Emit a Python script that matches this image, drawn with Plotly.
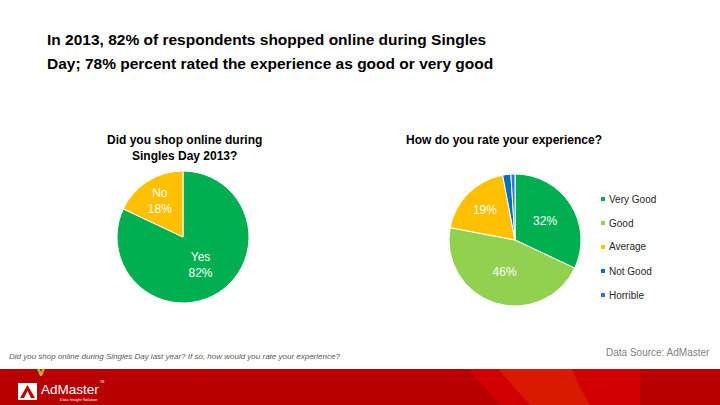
import plotly.graph_objects as go

# --- data ---
title_lines = ["In 2013, 82% of respondents shopped online during Singles",
               "Day; 78% percent rated the experience as good or very good"]

shop_labels = ["Yes", "No"]
shop_values = [82, 18]
shop_colors = ["#00B050", "#FFC000"]

rate_labels = ["Very Good", "Good", "Average", "Not Good", "Horrible"]
rate_values = [32, 46, 19, 2, 1]
rate_colors = ["#00B050", "#92D050", "#FFC000", "#0070C0", "#2E75D6"]

W, H = 720, 405


def px(x):
    return x / W


def py(y):
    return 1 - y / H


fig = go.Figure()

fig.add_trace(go.Pie(
    labels=shop_labels, values=shop_values, sort=False, direction="clockwise",
    rotation=0, marker=dict(colors=shop_colors, line=dict(color="white", width=1)),
    textinfo="label+percent", textposition="inside", insidetextorientation="horizontal",
    textfont=dict(color="white", size=12, family="Liberation Sans, Arial"),
    domain=dict(x=[px(117), px(249)], y=[py(303), py(171)]),
    showlegend=False, hoverinfo="label+percent",
))

rate_text = ["%{percent:.0%}" if v >= 5 else "" for v in rate_values]
fig.add_trace(go.Pie(
    labels=rate_labels, values=rate_values, sort=False, direction="clockwise",
    rotation=0, marker=dict(colors=rate_colors, line=dict(color="white", width=1)),
    texttemplate=rate_text, textposition="inside", insidetextorientation="horizontal",
    textfont=dict(color="white", size=12, family="Liberation Sans, Arial"),
    domain=dict(x=[px(449), px(581)], y=[py(306), py(174)]),
    showlegend=False, hoverinfo="label+percent",
))

shapes = []
annotations = []

# manual legend for the rating pie
for i, (lab, col) in enumerate(zip(rate_labels, rate_colors)):
    yc = 199 + i * 24
    shapes.append(dict(type="rect", xref="paper", yref="paper",
                       x0=px(601), x1=px(605), y0=py(yc + 2), y1=py(yc - 2),
                       fillcolor=col, line=dict(width=0)))
    annotations.append(dict(text=lab, x=px(607), y=py(yc), xanchor="left", yanchor="middle",
                            showarrow=False, font=dict(size=10, color="#262626")))

# title, one annotation per line to get the slide's line spacing
for i, line in enumerate(title_lines):
    annotations.append(dict(text=f"<b>{line}</b>", x=px(45), y=py(39 + i * 24),
                            xanchor="left", yanchor="middle", showarrow=False,
                            font=dict(size=15.5, color="black", family="Liberation Sans, Arial")))

# red footer band
shapes.append(dict(type="rect", xref="paper", yref="paper", x0=0, x1=1,
                   y0=0, y1=py(369), fillcolor="#B80000", line=dict(width=0), layer="below"))
shapes.append(dict(type="path", xref="paper", yref="paper",
                   path=f"M {px(468)} {py(369)} L {px(640)} {py(369)} L {px(640)} {py(405)} L {px(500)} {py(405)} Z",
                   fillcolor="#D20000", line=dict(width=0), layer="below"))
shapes.append(dict(type="path", xref="paper", yref="paper",
                   path=f"M {px(498)} {py(369)} L {px(572)} {py(369)} Q {px(580)} {py(390)} {px(590)} {py(405)} L {px(530)} {py(405)} Z",
                   fillcolor="#DA1A00", line=dict(width=0), layer="below"))
# logo: mark above, white square
shapes.append(dict(type="path", xref="paper", yref="paper",
                   path=f"M {px(37)} {py(369)} L {px(40)} {py(376)} L {px(42)} {py(376)} L {px(40)} {py(369)} Z",
                   fillcolor="#8DC63F", line=dict(width=0)))
shapes.append(dict(type="path", xref="paper", yref="paper",
                   path=f"M {px(45)} {py(369)} L {px(42)} {py(376)} L {px(40)} {py(376)} L {px(42)} {py(369)} Z",
                   fillcolor="#F7941D", line=dict(width=0)))
shapes.append(dict(type="rect", xref="paper", yref="paper", x0=px(18), x1=px(37),
                   y0=py(400), y1=py(383), fillcolor="white", line=dict(width=0)))
shapes.append(dict(type="path", xref="paper", yref="paper",
                   path=f"M {px(20)} {py(398)} L {px(27.5)} {py(385)} L {px(35)} {py(398)} L {px(31)} {py(398)} L {px(27.5)} {py(391)} L {px(24)} {py(398)} Z",
                   fillcolor="#C00000", line=dict(width=0)))

annotations += [
    dict(text="<b>Did you shop online during<br>Singles Day 2013?</b>",
         x=px(184), y=py(148), xanchor="center", yanchor="middle", align="center", showarrow=False,
         font=dict(size=12, color="black")),
    dict(text="<b>How do you rate your experience?</b>",
         x=px(504), y=py(140), xanchor="center", yanchor="middle", showarrow=False,
         font=dict(size=12, color="black")),
    dict(text="<i>Did you shop online during Singles Day last year? If so, how would you rate your experience?</i>",
         x=px(7), y=py(356), xanchor="left", yanchor="middle", showarrow=False,
         font=dict(size=8, color="#595959")),
    dict(text="Data Source: AdMaster", x=px(712), y=py(352), xanchor="right", yanchor="middle",
         showarrow=False, font=dict(size=10, color="#7F7F7F")),
    dict(text="AdMaster", x=px(39), y=py(389), xanchor="left", yanchor="middle", showarrow=False,
         font=dict(size=13.5, color="white")),
    dict(text="Data·Insight·Solution", x=px(58), y=py(399), xanchor="left", yanchor="middle",
         showarrow=False, font=dict(size=4, color="white")),
    dict(text="TM", x=px(98), y=py(382), xanchor="left", yanchor="middle",
         showarrow=False, font=dict(size=3, color="white")),
]

fig.update_layout(
    width=W, height=H, margin=dict(l=0, r=0, t=0, b=0),
    paper_bgcolor="white", plot_bgcolor="white",
    font=dict(family="Liberation Sans, Arial, sans-serif"),
    shapes=shapes, annotations=annotations, showlegend=False,
)

fig.write_html("out.html", config={"displayModeBar": False},
               post_script="document.body.style.margin='0';document.body.style.overflow='hidden';")
